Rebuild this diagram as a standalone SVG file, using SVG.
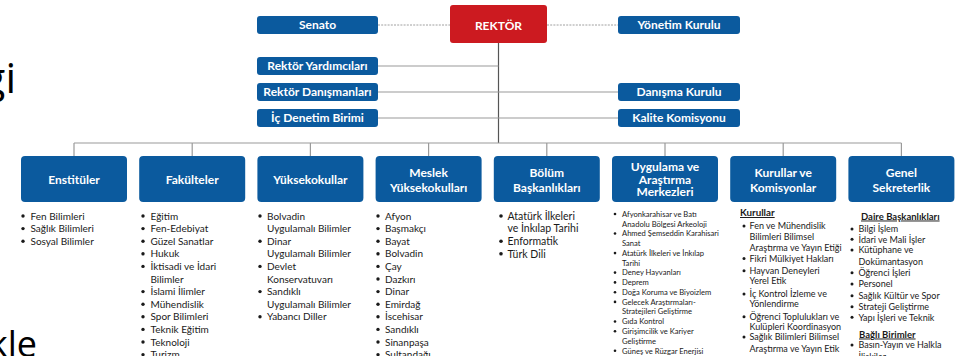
<svg xmlns="http://www.w3.org/2000/svg" width="957" height="356" viewBox="0 0 957 356">
<style>
.bg{fill:#ffffff}
.box{fill:#0b5a9e}
.rk{fill:#cc1a20}
.bt{font-family:Lato,'Open Sans',sans-serif;font-weight:700;fill:#ffffff;text-anchor:middle;font-size:12px}
.li{font-family:Lato,'Open Sans',sans-serif;fill:#1a1a1a;font-size:10px}
.li11{font-family:Lato,'Open Sans',sans-serif;fill:#1a1a1a;font-size:10.5px}
.li9{font-family:Lato,'Open Sans',sans-serif;fill:#1a1a1a;font-size:9px}
.li7{font-family:Lato,'Open Sans',sans-serif;fill:#1a1a1a;font-size:7.6px}
.hd{font-family:Lato,'Open Sans',sans-serif;fill:#1a1a1a;font-weight:700;text-decoration:underline}
.big{font-family:'Open Sans','Noto Sans',sans-serif;fill:#000;text-anchor:end}
.bu{fill:#1a1a1a}
.ln{stroke:#9a9a9a;stroke-width:1.2;fill:none}
.vl{stroke:#555;stroke-width:1.2;fill:none}
.dl{stroke:#a0a0a0;stroke-width:1;stroke-dasharray:2 1.2;fill:none}
</style>
<rect class="bg" x="0" y="0" width="957" height="356"/>
<text class="big" x="16" y="93" font-size="42">gi</text>
<text class="big" x="37" y="357" font-size="36">kle</text>
<g id="connectors">
<path class="dl" d="M378 25H450M547 25H618"/>
<path class="vl" d="M498.5 43V143"/>
<path class="ln" d="M378 66H498.5M378 92H618M378 118H618"/>
<path class="ln" d="M74 143H901.4M74 143V156M192.2 143V156M310.4 143V156M428.6 143V156M546.8 143V156M665 143V156M783.2 143V156M901.4 143V156"/>
</g>
<g id="rektor"><rect class="rk" x="450" y="5" width="97" height="38" rx="3"/><text class="bt" x="498.5" y="30.3" font-size="17">REKTÖR</text></g>
<g id="senato"><rect class="box" x="257" y="16" width="121" height="18" rx="3"/><text class="bt" x="317.5" y="29.3">Senato</text></g>
<g id="rektor-yardimcilari"><rect class="box" x="257" y="57" width="121" height="18" rx="3"/><text class="bt" x="317.5" y="70.3">Rektör Yardımcıları</text></g>
<g id="rektor-danismanlari"><rect class="box" x="257" y="83" width="121" height="18" rx="3"/><text class="bt" x="317.5" y="96.3">Rektör Danışmanları</text></g>
<g id="ic-denetim"><rect class="box" x="257" y="109" width="121" height="18" rx="3"/><text class="bt" x="317.5" y="122.3">İç Denetim Birimi</text></g>
<g id="yonetim-kurulu"><rect class="box" x="618" y="16" width="122" height="18" rx="3"/><text class="bt" x="679" y="29.3">Yönetim Kurulu</text></g>
<g id="danisma-kurulu"><rect class="box" x="618" y="83" width="122" height="18" rx="3"/><text class="bt" x="679" y="96.3">Danışma Kurulu</text></g>
<g id="kalite-komisyonu"><rect class="box" x="618" y="109" width="122" height="18" rx="3"/><text class="bt" x="679" y="122.3">Kalite Komisyonu</text></g>

<g id="enstituler">
<rect class="box" x="21" y="156" width="106" height="46" rx="4"/>
<text class="bt" x="74" y="184.3">Enstitüler</text>
<g class="bu"><circle cx="23" cy="216" r="1.7"/><circle cx="23" cy="228.6" r="1.7"/><circle cx="23" cy="241.2" r="1.7"/></g>
<text class="li"><tspan x="30.5" y="219.5">Fen Bilimleri</tspan><tspan x="30.5" y="232.1">Sağlık Bilimleri</tspan><tspan x="30.5" y="244.7">Sosyal Bilimler</tspan></text>
</g>

<g id="fakulteler">
<rect class="box" x="139.2" y="156" width="106" height="46" rx="4"/>
<text class="bt" x="192.2" y="184.3">Fakülteler</text>
<g class="bu"><circle cx="143" cy="216" r="1.7"/><circle cx="143" cy="228.6" r="1.7"/><circle cx="143" cy="241.2" r="1.7"/><circle cx="143" cy="253.8" r="1.7"/><circle cx="143" cy="266.4" r="1.7"/><circle cx="143" cy="291.6" r="1.7"/><circle cx="143" cy="304.2" r="1.7"/><circle cx="143" cy="316.8" r="1.7"/><circle cx="143" cy="329.4" r="1.7"/><circle cx="143" cy="342" r="1.7"/><circle cx="143" cy="354.6" r="1.7"/></g>
<text class="li"><tspan x="150.5" y="219.5">Eğitim</tspan><tspan x="150.5" y="232.1">Fen-Edebiyat</tspan><tspan x="150.5" y="244.7">Güzel Sanatlar</tspan><tspan x="150.5" y="257.3">Hukuk</tspan><tspan x="150.5" y="269.9">İktisadi ve İdari</tspan><tspan x="150.5" y="282.5">Bilimler</tspan><tspan x="150.5" y="295.1">İslami İlimler</tspan><tspan x="150.5" y="307.7">Mühendislik</tspan><tspan x="150.5" y="320.3">Spor Bilimleri</tspan><tspan x="150.5" y="332.9">Teknik Eğitim</tspan><tspan x="150.5" y="345.5">Teknoloji</tspan><tspan x="150.5" y="358.1">Turizm</tspan></text>
</g>

<g id="yuksekokullar">
<rect class="box" x="257.4" y="156" width="106" height="46" rx="4"/>
<text class="bt" x="310.4" y="184.3">Yüksekokullar</text>
<g class="bu"><circle cx="260" cy="216" r="1.7"/><circle cx="260" cy="241.2" r="1.7"/><circle cx="260" cy="266.4" r="1.7"/><circle cx="260" cy="291.6" r="1.7"/><circle cx="260" cy="316.8" r="1.7"/></g>
<text class="li"><tspan x="267" y="219.5">Bolvadin</tspan><tspan x="267" y="232.1">Uygulamalı Bilimler</tspan><tspan x="267" y="244.7">Dinar</tspan><tspan x="267" y="257.3">Uygulamalı Bilimler</tspan><tspan x="267" y="269.9">Devlet</tspan><tspan x="267" y="282.5">Konservatuvarı</tspan><tspan x="267" y="295.1">Sandıklı</tspan><tspan x="267" y="307.7">Uygulamalı Bilimler</tspan><tspan x="267" y="320.3">Yabancı Diller</tspan></text>
</g>

<g id="meslek-yuksekokullari">
<rect class="box" x="375.6" y="156" width="106" height="46" rx="4"/>
<text class="bt"><tspan x="428.6" y="177">Meslek</tspan><tspan x="428.6" y="192">Yüksekokulları</tspan></text>
<g class="bu"><circle cx="378" cy="216" r="1.7"/><circle cx="378" cy="228.6" r="1.7"/><circle cx="378" cy="241.2" r="1.7"/><circle cx="378" cy="253.8" r="1.7"/><circle cx="378" cy="266.4" r="1.7"/><circle cx="378" cy="279" r="1.7"/><circle cx="378" cy="291.6" r="1.7"/><circle cx="378" cy="304.2" r="1.7"/><circle cx="378" cy="316.8" r="1.7"/><circle cx="378" cy="329.4" r="1.7"/><circle cx="378" cy="342" r="1.7"/><circle cx="378" cy="354.6" r="1.7"/></g>
<text class="li"><tspan x="385" y="219.5">Afyon</tspan><tspan x="385" y="232.1">Başmakçı</tspan><tspan x="385" y="244.7">Bayat</tspan><tspan x="385" y="257.3">Bolvadin</tspan><tspan x="385" y="269.9">Çay</tspan><tspan x="385" y="282.5">Dazkırı</tspan><tspan x="385" y="295.1">Dinar</tspan><tspan x="385" y="307.7">Emirdağ</tspan><tspan x="385" y="320.3">İscehisar</tspan><tspan x="385" y="332.9">Sandıklı</tspan><tspan x="385" y="345.5">Sinanpaşa</tspan><tspan x="385" y="358.1">Sultandağı</tspan></text>
</g>

<g id="bolum-baskanliklari">
<rect class="box" x="493.8" y="156" width="106" height="46" rx="4"/>
<text class="bt"><tspan x="546.8" y="177">Bölüm</tspan><tspan x="546.8" y="191.5">Başkanlıkları</tspan></text>
<g class="bu"><circle cx="501" cy="216" r="1.8"/><circle cx="501" cy="241.2" r="1.8"/><circle cx="501" cy="253.8" r="1.8"/></g>
<text class="li11"><tspan x="507.5" y="219.7">Atatürk İlkeleri</tspan><tspan x="507.5" y="232.3">ve İnkılap Tarihi</tspan><tspan x="507.5" y="244.9">Enformatik</tspan><tspan x="507.5" y="257.5">Türk Dili</tspan></text>
</g>

<g id="uygulama-arastirma">
<rect class="box" x="612" y="156" width="106" height="46" rx="4"/>
<text class="bt" font-size="11.5"><tspan x="665" y="171">Uygulama ve</tspan><tspan x="665" y="183.5">Araştırma</tspan><tspan x="665" y="196">Merkezleri</tspan></text>
<g class="bu"><circle cx="615" cy="214" r="1.3"/><circle cx="615" cy="233.5" r="1.3"/><circle cx="615" cy="253.1" r="1.3"/><circle cx="615" cy="272.6" r="1.3"/><circle cx="615" cy="282.4" r="1.3"/><circle cx="615" cy="292.2" r="1.3"/><circle cx="615" cy="301.9" r="1.3"/><circle cx="615" cy="321.5" r="1.3"/><circle cx="615" cy="331.2" r="1.3"/><circle cx="615" cy="350.8" r="1.3"/></g>
<text class="li7"><tspan x="622" y="216.7">Afyonkarahisar ve Batı</tspan><tspan x="622" y="226.5">Anadolu Bölgesi Arkeoloji</tspan><tspan x="622" y="236.2">Ahmed Şemseddin Karahisari</tspan><tspan x="622" y="246">Sanat</tspan><tspan x="622" y="255.8">Atatürk İlkeleri ve İnkılap</tspan><tspan x="622" y="265.6">Tarihi</tspan><tspan x="622" y="275.3">Deney Hayvanları</tspan><tspan x="622" y="285.1">Deprem</tspan><tspan x="622" y="294.9">Doğa Koruma ve Biyoizlem</tspan><tspan x="622" y="304.6">Gelecek Araştırmaları-</tspan><tspan x="622" y="314.4">Stratejileri Geliştirme</tspan><tspan x="622" y="324.2">Gıda Kontrol</tspan><tspan x="622" y="333.9">Girişimcilik ve Kariyer</tspan><tspan x="622" y="343.7">Geliştirme</tspan><tspan x="622" y="353.5">Güneş ve Rüzgar Enerjisi</tspan></text>
</g>

<g id="kurullar-komisyonlar">
<rect class="box" x="730.2" y="156" width="106" height="46" rx="4"/>
<text class="bt"><tspan x="783.2" y="177">Kurullar ve</tspan><tspan x="783.2" y="192">Komisyonlar</tspan></text>
<text class="hd" x="740" y="216" font-size="9.8">Kurullar</text>
<g class="bu"><circle cx="744" cy="226" r="1.5"/><circle cx="744" cy="258.5" r="1.5"/><circle cx="744" cy="270.7" r="1.5"/><circle cx="744" cy="294" r="1.5"/><circle cx="744" cy="316.7" r="1.5"/><circle cx="744" cy="337" r="1.5"/></g>
<text class="li9"><tspan x="749.5" y="229.2">Fen ve Mühendislik</tspan><tspan x="749.5" y="239.9">Bilimleri Bilimsel</tspan><tspan x="749.5" y="251.2">Araştırma ve Yayın Etiği</tspan><tspan x="749.5" y="261.7">Fikri Mülkiyet Hakları</tspan><tspan x="749.5" y="273.9">Hayvan Deneyleri</tspan><tspan x="749.5" y="284.2">Yerel Etik</tspan><tspan x="749.5" y="297.2">İç Kontrol İzleme ve</tspan><tspan x="749.5" y="307.2">Yönlendirme</tspan><tspan x="749.5" y="319.9">Öğrenci Toplulukları ve</tspan><tspan x="749.5" y="329.9">Kulüpleri Koordinasyon</tspan><tspan x="749.5" y="340.2">Sağlık Bilimleri Bilimsel</tspan><tspan x="749.5" y="351.9">Araştırma ve Yayın Etik</tspan></text>
</g>

<g id="genel-sekreterlik">
<rect class="box" x="848.4" y="156" width="106" height="46" rx="4"/>
<text class="bt"><tspan x="901.4" y="177">Genel</tspan><tspan x="901.4" y="192">Sekreterlik</tspan></text>
<text class="hd" x="861" y="219.5" font-size="9.5">Daire Başkanlıkları</text>
<g class="bu"><circle cx="852" cy="229" r="1.5"/><circle cx="852" cy="239.3" r="1.5"/><circle cx="852" cy="250" r="1.5"/><circle cx="852" cy="272.7" r="1.5"/><circle cx="852" cy="284" r="1.5"/><circle cx="852" cy="295.7" r="1.5"/><circle cx="852" cy="306.7" r="1.5"/><circle cx="852" cy="317.3" r="1.5"/><circle cx="852" cy="345" r="1.5"/></g>
<text class="li9"><tspan x="858.5" y="232.2">Bilgi İşlem</tspan><tspan x="858.5" y="242.5">İdari ve Mali İşler</tspan><tspan x="858.5" y="253.2">Kütüphane ve</tspan><tspan x="858.5" y="264.9">Dokümantasyon</tspan><tspan x="858.5" y="275.9">Öğrenci İşleri</tspan><tspan x="858.5" y="287.2">Personel</tspan><tspan x="858.5" y="298.9">Sağlık Kültür ve Spor</tspan><tspan x="858.5" y="309.9">Strateji Geliştirme</tspan><tspan x="858.5" y="320.5">Yapı İşleri ve Teknik</tspan></text>
<text class="hd" x="859" y="337.5" font-size="9.5">Bağlı Birimler</text>
<text class="li9"><tspan x="858.5" y="348.2">Basın-Yayın ve Halkla</tspan><tspan x="858.5" y="359.5">İlişkiler</tspan></text>
</g>
</svg>
